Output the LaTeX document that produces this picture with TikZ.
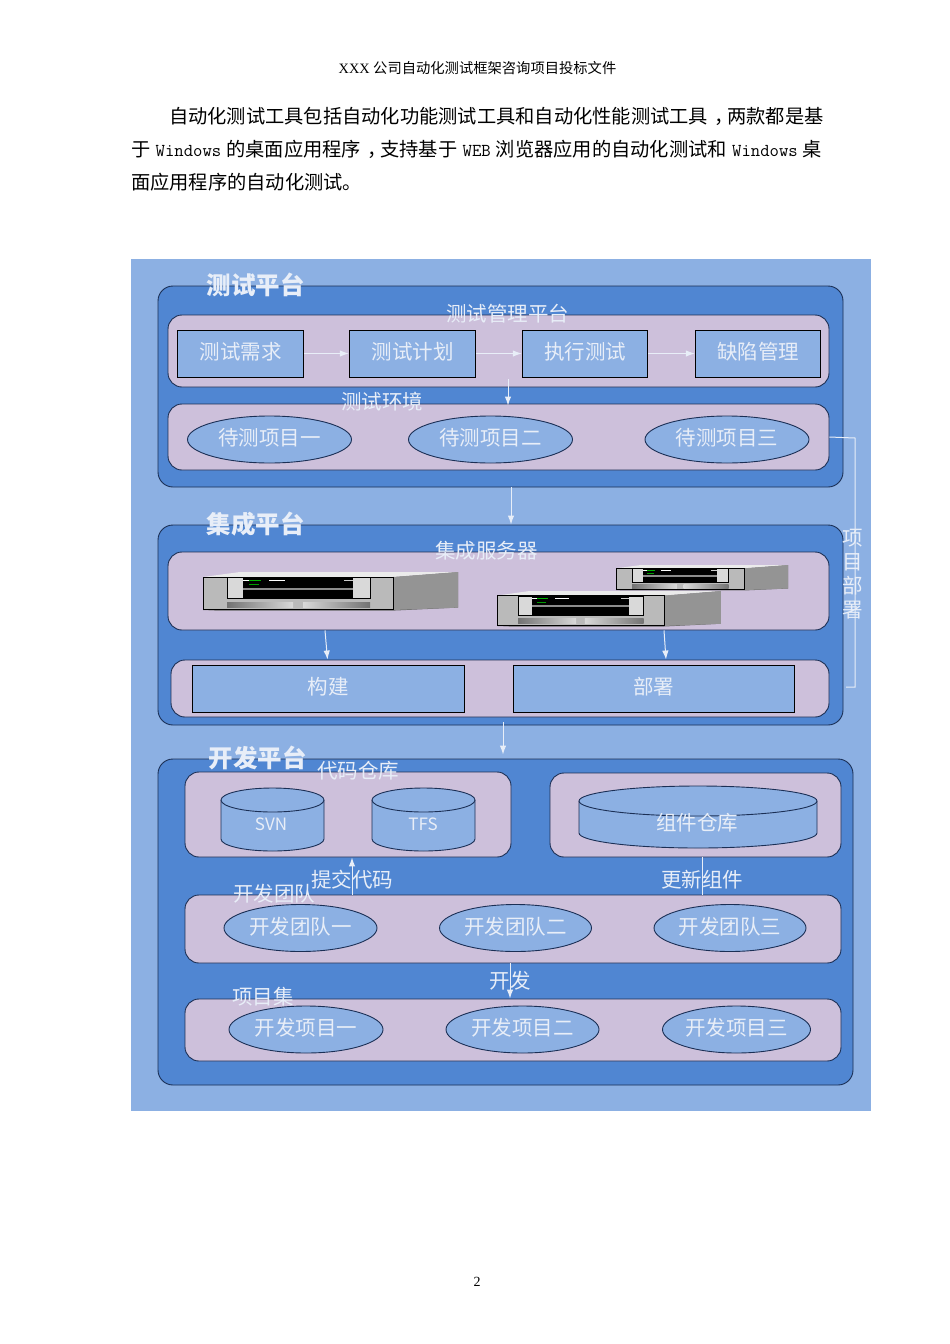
\documentclass[tikz,border=0pt]{standalone}
\usepackage{fontspec}
\setmainfont{Liberation Serif}
\newfontfamily\cjk{Noto Sans CJK SC}
\usetikzlibrary{shapes.geometric,arrows.meta}
\definecolor{panelblue}{HTML}{8CB0E3}
\definecolor{platblue}{HTML}{5086D2}
\definecolor{boxpurple}{HTML}{CDC0DB}
\definecolor{edgeblue}{HTML}{1B2F55}
\definecolor{paletext}{HTML}{E8EEF8}
\newcommand{\pagefont}{\cjk\fontsize{19.25}{22}\selectfont}
\newcommand{\latinfont}{\ttfamily\fontsize{18.2}{22}\selectfont}
\newcommand{\midcomma}{\hspace{6pt}，\hspace{-6pt}}
\newcommand{\drum}[5]{
  \draw[drumbody] (#1-#3,#2+#4) -- (#1-#3,#2+#5-#4) arc[start angle=180,end angle=360,x radius=#3pt,y radius=#4pt] -- (#1+#3,#2+#4);
  \draw[drumbody] (#1,#2+#4) ellipse[x radius=#3pt,y radius=#4pt];
}
\tikzset{
  platform/.style={draw=edgeblue,line width=0.9pt,fill=platblue,rounded corners=15pt,minimum width=#1,inner sep=0pt},
  tray/.style={draw=edgeblue,line width=0.9pt,fill=boxpurple,rounded corners=14pt,minimum width=#1,inner sep=0pt},
  stepbox/.style={draw=black,line width=0.9pt,fill=panelblue,text=paletext,font=\cjk\fontsize{20.5}{22}\selectfont,text depth=5pt,minimum width=#1,minimum height=47pt,inner sep=0pt},
  item/.style={ellipse,draw=edgeblue,line width=0.9pt,fill=panelblue,text=paletext,font=\cjk\fontsize{20.5}{22}\selectfont,text depth=5pt,minimum width=#1,minimum height=47pt,inner sep=0pt},
  drumbody/.style={draw=edgeblue,line width=0.9pt,fill=panelblue},
  heading/.style={text=paletext,font=\cjk\bfseries\fontsize{24.5}{26}\selectfont,inner sep=0pt},
  caption/.style={text=paletext,font=\cjk\fontsize{20.5}{24}\selectfont,inner sep=0pt},
  flow/.style={draw=paletext,line width=1pt,-{Latex[length=9pt,width=6.5pt]}},
  plainflow/.style={draw=paletext,line width=1pt},
  server/.pic={
    \fill[black!60] (0,38) -- (14,38.6) -- (190,38.6) -- (255,35.6) -- (255,0) -- (190,5) -- (0,5) -- cycle;
    \fill[black!8] (0,5) -- (37,0) -- (255,0) -- (190,5) -- cycle;
    \fill[black!42] (190,5) -- (255,0) -- (255,35.6) -- (190,38) -- cycle;
    \draw[fill=black!27,line width=0.6pt] (0,5) rectangle (190,37);
    \draw[fill=white!85!black,line width=0.6pt] (24,5.5) rectangle (167,26.5);
    \fill[black] (40,6) rectangle (150,26);
    \fill[black!45] (40,15.5) rectangle (150,17.5);
    \fill[white] (40,7.5) rectangle (50,8.3);
    \fill[green!70!black] (46,7.5) rectangle (58,8.3);
    \fill[white] (66,7.5) rectangle (82,8.3);
    \fill[green!60!black] (46,12) rectangle (56,13);
    \fill[white!80!black] (141,7.5) rectangle (150,8.3);
    \shade[left color=black!55,right color=black!15] (24,30) rectangle (90,35);
    \shade[left color=black!15,right color=black!55] (100,30) rectangle (167,35);
  }
}
\begin{document}
\begin{tikzpicture}[x=1pt,y=-1pt]
  \useasboundingbox (0,0) rectangle (950,1344);
  \fill[white] (0,0) rectangle (950,1344);

  \node (head) at (477.5,68) {\fontsize{14.3}{16}\selectfont XXX {\cjk 公司自动化测试框架咨询项目投标文件}};
  \node[anchor=west,inner sep=0pt] (line1) at (169,116) {\pagefont 自动化测试工具包括自动化功能测试工具和自动化性能测试工具\midcomma 两款都是基};
  \node[anchor=west,inner sep=0pt] (line2) at (131,149) {\pagefont 于\hspace{5.2pt}{\latinfont Windows}\hspace{5.2pt}的桌面应用程序\midcomma 支持基于\hspace{5.2pt}{\latinfont WEB}\hspace{5.2pt}浏览器应用的自动化测试和\hspace{5.2pt}{\latinfont Windows}\hspace{5.2pt}桌};
  \node[anchor=west,inner sep=0pt] (line3) at (131,182) {\pagefont 面应用程序的自动化测试。};
  \node (pageno) at (477,1282) {\fontsize{14}{16}\selectfont 2};

  \node[fill=panelblue,minimum width=740pt,minimum height=852pt,inner sep=0pt] (panel) at (501,685) {};

  \node[platform=685pt,minimum height=201pt] (testplat) at (500.5,386.5) {};
  \node[platform=685pt,minimum height=200pt] (ciplat) at (500.5,625) {};
  \node[platform=695pt,minimum height=326pt] (devplat) at (505.5,922) {};

  \node[tray=661pt,minimum height=72pt] (manage) at (498.5,351) {};
  \node[tray=661pt,minimum height=66pt] (env) at (498.5,437) {};
  \node[stepbox=126.5pt] (need) at (240.5,353.5) {测试需求};
  \node[stepbox=126.5pt] (plan) at (412.5,353.5) {测试计划};
  \node[stepbox=125.5pt] (run) at (585,353.5) {执行测试};
  \node[stepbox=125.5pt] (bug) at (758,353.5) {缺陷管理};
  \node[item=164pt] (target1) at (269.5,439.5) {待测项目一};
  \node[item=164pt] (target2) at (490.5,439.5) {待测项目二};
  \node[item=164pt] (target3) at (727,439.5) {待测项目三};

  \node[tray=661pt,minimum height=78pt] (servers) at (498.5,591) {};
  \node[tray=658pt,minimum height=57pt] (jobs) at (500,688.5) {};
  \node[stepbox=272pt] (build) at (328,688.5) {构建};
  \node[stepbox=281pt] (deploy) at (653.5,688.5) {部署};
  \pic at (203,572) {server};
  \pic[xscale=0.675,yscale=0.66] at (616,565) {server};
  \pic[xscale=0.878,yscale=0.92] at (497,591) {server};

  \node[tray=326pt,minimum height=85pt] (coderepo) at (348,814.5) {};
  \node[tray=291pt,minimum height=84pt] (comprepo) at (695.5,815) {};
  \drum{272.5}{788}{51.5}{12}{63}
  \drum{423.5}{788}{51.5}{12}{63}
  \drum{698}{786}{119}{15}{62}
  \node[text=paletext,font=\cjk\fontsize{17}{20}\selectfont,inner sep=0pt] (svn) at (271,824) {SVN};
  \node[text=paletext,font=\cjk\fontsize{17}{20}\selectfont,inner sep=0pt] (tfs) at (423,824) {TFS};
  \node[tray=656pt,minimum height=68pt] (teams) at (513,929) {};
  \node[tray=656pt,minimum height=62pt] (projects) at (513,1030) {};
  \node[item=153pt] (team1) at (300.5,928) {开发团队一};
  \node[item=152pt] (team2) at (515.5,928) {开发团队二};
  \node[item=152pt] (team3) at (730,928) {开发团队三};
  \node[item=154pt] (proj1) at (306,1029.5) {开发项目一};
  \node[item=153pt] (proj2) at (522.5,1029.5) {开发项目二};
  \node[item=148pt] (proj3) at (736.5,1029.5) {开发项目三};

  \coordinate (deployturn) at (855,438);
  \coordinate (deployend) at (846,687);

  \draw[flow] (need.east) -- (plan.west);
  \draw[flow] (plan.east) -- (run.west);
  \draw[flow] (run.east) -- (bug.west);
  \draw[flow] ([xshift=9.5pt,yshift=8pt]manage.south) -- ([xshift=9.5pt,yshift=-2pt]env.north);
  \draw[flow] ([xshift=10.5pt]testplat.south) -- ([xshift=10.5pt]ciplat.north);
  \draw[flow] ([xshift=2.5pt,yshift=3pt]ciplat.south) -- ([xshift=-2.5pt,yshift=4pt]devplat.north);
  \draw[flow] ([xshift=-173.5pt]servers.south) -- ([xshift=-172.5pt]jobs.north);
  \draw[flow] ([xshift=165.5pt]servers.south) -- ([xshift=166pt]jobs.north);
  \draw[plainflow] (env.east) -- (deployturn) -- (deployend -| deployturn) -- (deployend);
  \draw[flow] ([xshift=4pt]coderepo.south |- teams.north) -- ([xshift=4pt]coderepo.south);
  \draw[plainflow] ([xshift=6.5pt]comprepo.south) -- ([xshift=6.5pt]comprepo.south |- teams.north);
  \draw[flow] ([xshift=-3pt]teams.south) -- ([xshift=-3pt]projects.north);

  \node[heading] (testtitle) at (255.5,285) {测试平台};
  \node[caption] (managetitle) at (507.5,314) {测试管理平台};
  \node[caption] (envtitle) at (382,402) {测试环境};
  \node[heading] (cititle) at (255.5,524) {集成平台};
  \node[caption] (servertitle) at (486.5,551) {集成服务器};
  \node[heading] (devtitle) at (257.5,758) {开发平台};
  \node[caption] (repotitle) at (358,771) {代码仓库};
  \node[caption] (submit) at (352,880) {提交代码};
  \node[caption] (update) at (702,880) {更新组件};
  \node[caption] (teamtitle) at (274,894) {开发团队};
  \node[caption] (develop) at (510,981) {开发};
  \node[caption] (settitle) at (263,997) {项目集};
  \node[caption] (comptitle) at (697,823) {组件仓库};
  \node[caption,align=center] (deploytitle) at (852.5,574) {项\\目\\部\\署};
\end{tikzpicture}
\end{document}
